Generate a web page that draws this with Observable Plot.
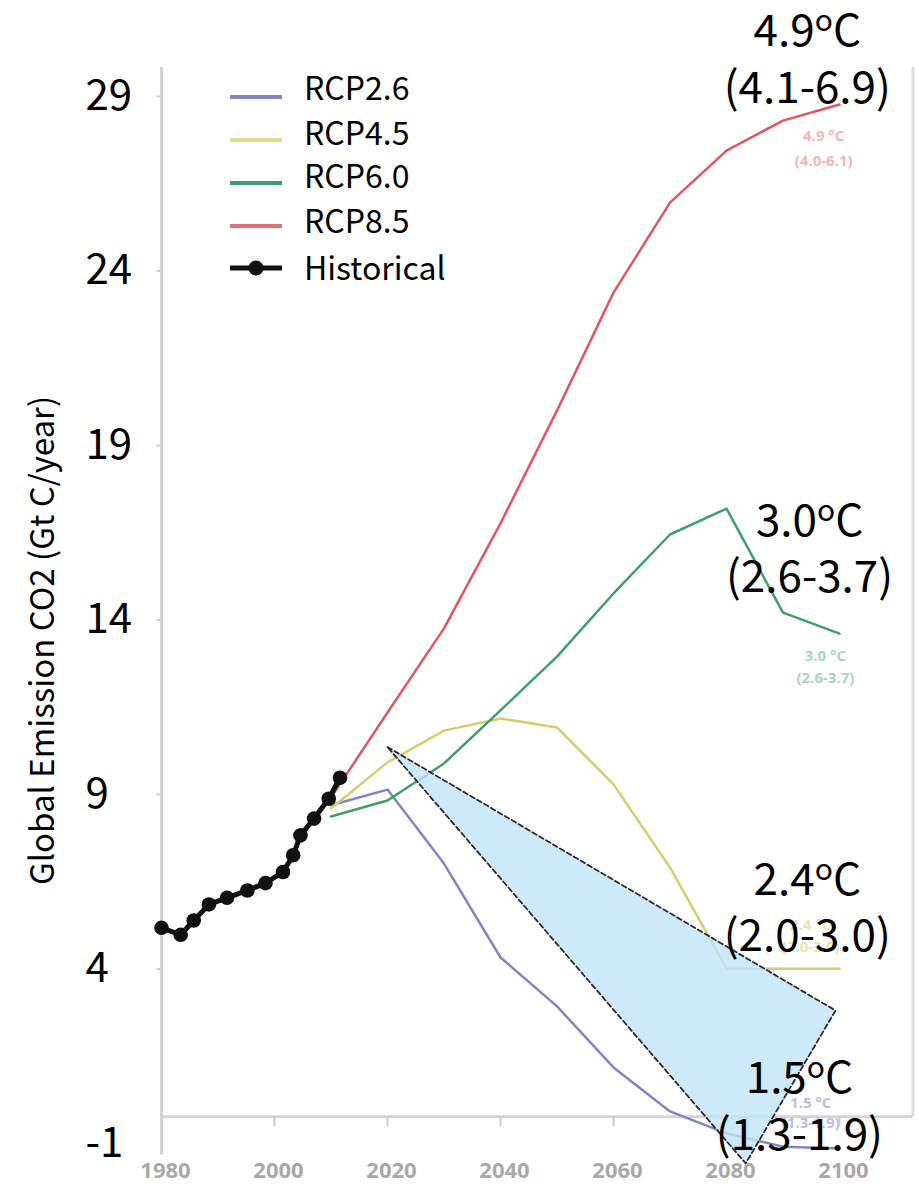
<!DOCTYPE html>
<html><head><meta charset="utf-8">
<script src="https://cdn.jsdelivr.net/npm/d3@7"></script>
<script src="https://cdn.jsdelivr.net/npm/@observablehq/plot@0.6"></script>
<style>
body{margin:0;background:#fff;}
#wrap{position:relative;width:919px;height:1188px;overflow:hidden;background:#fff;}
#legend{position:absolute;left:0;top:0;pointer-events:none;}
</style></head><body><div id="wrap"></div>
<script>
const FONT = "'Noto Sans CJK KR','Noto Sans',sans-serif";

// ---- data ----
const histYears  = [1980, 1983.4, 1985.7, 1988.4, 1991.6, 1995.2, 1998.4, 2001.5, 2003.3, 2004.6, 2007, 2009.6, 2011.6];
const histValues = [5.18, 4.98, 5.39, 5.85, 6.04, 6.25, 6.46, 6.78, 7.26, 7.83, 8.31, 8.88, 9.48];

const scenarioYears = [2010, 2020, 2030, 2040, 2050, 2060, 2070, 2080, 2090, 2100];
const rcp26 = [8.69, 9.14, 7.02, 4.33, 2.93, 1.18, -0.08, -0.71, -1.09, -1.14];
const rcp45 = [8.60, 9.92, 10.83, 11.18, 10.92, 9.29, 6.91, 4.01, 4.01, 4.01];
const rcp60 = [8.37, 8.83, 9.89, 11.41, 12.95, 14.76, 16.45, 17.19, 14.21, 13.61];
const rcp85 = [8.91, 11.35, 13.76, 16.77, 20.00, 23.38, 25.96, 27.45, 28.31, 28.77];

const scenarioNames  = ["RCP2.6", "RCP4.5", "RCP6.0", "RCP8.5"];
const scenarioColors = ["#7d87c2", "#d8cc6c", "#3f9e6e", "#e0575f"];
const legendSwatch   = ["#7d87c2", "#e6d98e", "#3f9e6e", "#e0717a"];

// 1.5 degC pathway band (triangle)
const pathwayYears  = [2020, 2099.3, 2083.4];
const pathwayValues = [10.36, 2.81, -1.57];

// annotations
const annoYears  = [2094.3, 2094.7, 2094.3, 2092.9];
const annoTemps  = ["4.9ºC", "3.0ºC", "2.4ºC", "1.5ºC"];
const annoRanges = ["(4.1-6.9)", "(2.6-3.7)", "(2.0-3.0)", "(1.3-1.9)"];
const annoTempY  = [30.46, 16.42, 6.11, 0.46];
const annoRangeY = [28.80, 14.79, 4.53, -1.20];

// faint labels of the underlying source figure
const origLabels = ["4.9 °C", "(4.0-6.1)", "3.0 °C", "(2.6-3.7)", "2.4 °C", "(2.0-3.0)", "1.5 °C", "(1.3-1.9)"];
const origYears  = [2097.2, 2097.2, 2097.5, 2097.5, 2094.9, 2094.9, 2094.9, 2094.9];
const origValues = [27.85, 27.14, 12.95, 12.32, 5.25, 4.62, 0.15, -0.43];
const origColors = ["#f5b3b5", "#f5b3b5", "#a5d4c4", "#a5d4c4", "#ece2aa", "#ece2aa", "#b8bee3", "#b8bee3"];

// axes
const yTicks = [29, 24, 19, 14, 9, 4, -1];
const xTicks = [1980, 2000, 2020, 2040, 2060, 2080, 2100];
const yTitle = "Global Emission CO2 (Gt C/year)";

// source-figure frame
const frameLeft = 1980, frameRight = 2113, frameTop = 29.83, frameBottom = -1.33, frameBase = -0.23;

// ---- tables ----
const hist = histYears.map((x, i) => ({x, y: histValues[i]}));
const series = [rcp26, rcp45, rcp60, rcp85].flatMap((vals, s) =>
  vals.map((y, i) => ({name: scenarioNames[s], x: scenarioYears[i], y})));
const pathway = pathwayYears.map((x, i) => ({x, y: pathwayValues[i]}));
const annoTop = annoTemps.map((t, i) => ({x: annoYears[i], y: annoTempY[i], t}));
const annoBot = annoRanges.map((t, i) => ({x: annoYears[i], y: annoRangeY[i], t}));
const orig = origLabels.map((t, i) => ({x: origYears[i], y: origValues[i], t, c: origColors[i]}));

const svg = Plot.plot({
  width: 919, height: 1188,
  marginLeft: 161, marginRight: 80, marginTop: 96, marginBottom: 45,
  style: {fontFamily: FONT, background: "#fff", overflow: "visible"},
  x: {domain: [1980, 2100], axis: null},
  y: {domain: [-1, 29], axis: null},
  color: {domain: scenarioNames, range: scenarioColors},
  marks: [
    // frame of the source figure
    Plot.ruleX([frameLeft], {y1: frameBottom, y2: frameTop, stroke: "#d2d2d2", strokeWidth: 3}),
    Plot.ruleX([frameRight], {y1: frameBase, y2: frameTop, stroke: "#dcdcdc", strokeWidth: 3}),
    Plot.ruleY([frameBase], {x1: frameLeft, x2: frameRight, stroke: "#d4d4d4", strokeWidth: 3}),
    Plot.ruleX(xTicks.filter(d => d > 1980), {y1: frameBase, y2: frameBase - 0.3, stroke: "#cfcfcf", strokeWidth: 2}),
    Plot.ruleY(yTicks.filter(d => d >= 0), {x1: frameLeft - 0.8, x2: frameLeft, stroke: "#cfcfcf", strokeWidth: 2}),
    // faint source labels
    Plot.text(orig, {x: "x", y: "y", text: "t", fill: "c", fontSize: 15, fontWeight: "bold", fontFamily: "'Open Sans',sans-serif"}),
    // scenarios
    Plot.line(series, {x: "x", y: "y", z: "name", stroke: "name", strokeWidth: 2.5}),
    // 1.5 C pathway
    Plot.line(pathway, {x: "x", y: "y", curve: "linear-closed", fill: "#c2e4f9", fillOpacity: 0.8,
      stroke: "#2a2a2a", strokeWidth: 1.8, strokeDasharray: "5,3"}),
    // historical
    Plot.line(hist, {x: "x", y: "y", stroke: "#111", strokeWidth: 5}),
    Plot.dot(hist, {x: "x", y: "y", r: 7.3, fill: "#111"}),
    // y tick labels
    Plot.text(yTicks, {y: d => d, text: d => String(d), frameAnchor: "left", textAnchor: "start", dx: -76, fontSize: 42, fill: "#000"}),
    // x tick labels
    Plot.text(xTicks, {x: d => d, text: d => String(d), frameAnchor: "bottom", dy: 34, dx: 4, fontSize: 22, fontWeight: "bold", fill: "#a8a8a8", fontFamily: "'Open Sans',sans-serif"}),
    // y title
    Plot.text([yTitle], {text: d => d, frameAnchor: "left", textAnchor: "middle", rotate: -90, dx: -118, dy: 20.5, fontSize: 33, fill: "#000"}),
    // annotations
    Plot.text(annoTop, {x: "x", y: "y", text: "t", lineAnchor: "bottom", fontSize: 44, fill: "#000"}),
    Plot.text(annoBot, {x: "x", y: "y", text: "t", lineAnchor: "bottom", fontSize: 44, fill: "#000"})
  ]
});

// superscript "o" in the annotation labels
d3.select(svg).selectAll("text").each(function () {
  const t = this.textContent;
  if (!t.includes("º")) return;
  const [a, b] = t.split("º");
  const s = d3.select(this);
  s.text(null);
  s.append("tspan").text(a);
  s.append("tspan").attr("font-size", "30px").attr("dy", "-15px").text("o");
  s.append("tspan").attr("dy", "15px").text(b);
});

const wrap = document.getElementById("wrap");
wrap.appendChild(svg);

// legend (inside the plot area, top-left)
const legendNames = [...scenarioNames, "Historical"];
const legendColors = [...legendSwatch, "#111"];
const lineYs = [97, 140, 183, 226, 268];
const textYs = [100, 145, 188, 233, 280];
const lg = d3.select(wrap).append("svg").attr("id", "legend").attr("width", 919).attr("height", 320);
legendNames.forEach((n, i) => {
  lg.append("line").attr("x1", 230).attr("x2", 282).attr("y1", lineYs[i]).attr("y2", lineYs[i])
    .attr("stroke", legendColors[i]).attr("stroke-width", i === 4 ? 5 : 4);
  if (i === 4) lg.append("circle").attr("cx", 256).attr("cy", lineYs[i]).attr("r", 7.5).attr("fill", "#111");
  lg.append("text").attr("x", 304).attr("y", textYs[i]).attr("font-family", FONT).attr("font-size", 32)
    .attr("fill", "#000").text(n);
});
</script></body></html>
